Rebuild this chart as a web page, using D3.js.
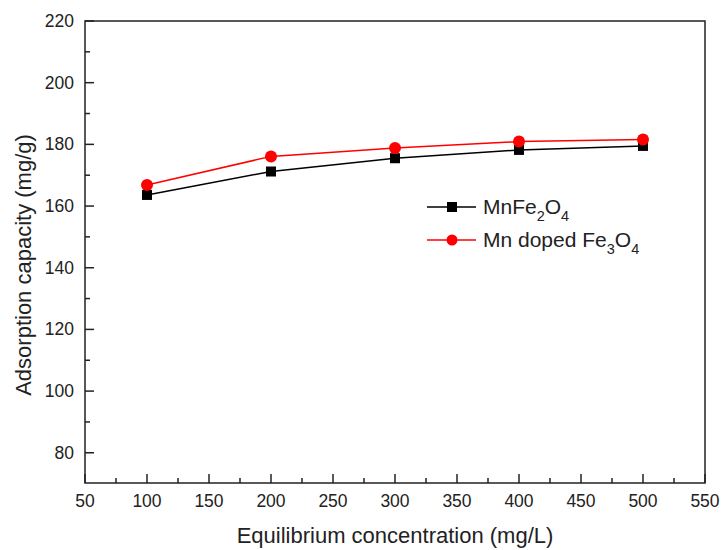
<!DOCTYPE html>
<html>
<head>
<meta charset="utf-8" />
<script src="https://cdn.jsdelivr.net/npm/d3@7"></script>
<style>
  body { margin: 0; background: #fff; }
  text { font-family: "Liberation Sans", Arial, sans-serif; fill: #222; }
</style>
</head>
<body>
<script>
// data
var concentration = [100, 200, 300, 400, 500];
var mnFe2O4 = [163.6, 171.2, 175.5, 178.2, 179.5];
var mnDopedFe3O4 = [166.8, 176.1, 178.8, 180.9, 181.6];
var xTicks = [50, 100, 150, 200, 250, 300, 350, 400, 450, 500, 550];
var yTicks = [80, 100, 120, 140, 160, 180, 200, 220];

var width = 724, height = 550;
var mLeft = 85, mRight = 705, mTop = 21, mBottom = 483;

var svg = d3.select("body").append("svg")
    .attr("width", width)
    .attr("height", height);

var x = d3.scaleLinear().domain([50, 550]).range([mLeft, mRight]);
var y = d3.scaleLinear().domain([70.2, 220]).range([mBottom, mTop]);

// frame
svg.append("rect")
    .attr("x", mLeft).attr("y", mTop)
    .attr("width", mRight - mLeft).attr("height", mBottom - mTop)
    .attr("fill", "none").attr("stroke", "#222").attr("stroke-width", 1.5);

// minor ticks
var xMinor = d3.range(75, 550, 50);
svg.selectAll(".xminor").data(xMinor).enter().append("line")
    .attr("x1", function (d) { return x(d); }).attr("x2", function (d) { return x(d); })
    .attr("y1", mBottom).attr("y2", mBottom - 5)
    .attr("stroke", "#222").attr("stroke-width", 1.5);
var yMinor = d3.range(90, 220, 20);
svg.selectAll(".yminor").data(yMinor).enter().append("line")
    .attr("y1", function (d) { return y(d); }).attr("y2", function (d) { return y(d); })
    .attr("x1", mLeft).attr("x2", mLeft + 5)
    .attr("stroke", "#222").attr("stroke-width", 1.5);

// major ticks + labels
svg.selectAll(".xmajor").data(xTicks).enter().append("line")
    .attr("x1", function (d) { return x(d); }).attr("x2", function (d) { return x(d); })
    .attr("y1", mBottom).attr("y2", mBottom - 9)
    .attr("stroke", "#222").attr("stroke-width", 1.5);
svg.selectAll(".xlabel").data(xTicks).enter().append("text")
    .attr("x", function (d) { return x(d); })
    .attr("y", 507)
    .attr("text-anchor", "middle")
    .attr("font-size", 17.5)
    .text(function (d) { return d; });

svg.selectAll(".ymajor").data(yTicks).enter().append("line")
    .attr("y1", function (d) { return y(d); }).attr("y2", function (d) { return y(d); })
    .attr("x1", mLeft).attr("x2", mLeft + 9)
    .attr("stroke", "#222").attr("stroke-width", 1.5);
svg.selectAll(".ylabel").data(yTicks).enter().append("text")
    .attr("x", mLeft - 11)
    .attr("y", function (d) { return y(d) + 6; })
    .attr("text-anchor", "end")
    .attr("font-size", 17.5)
    .text(function (d) { return d; });

// axis titles
svg.append("text")
    .attr("x", (mLeft + mRight) / 2)
    .attr("y", 543)
    .attr("text-anchor", "middle")
    .attr("font-size", 22)
    .text("Equilibrium concentration (mg/L)");
svg.append("text")
    .attr("transform", "translate(31,265) rotate(-90)")
    .attr("text-anchor", "middle")
    .attr("font-size", 22)
    .text("Adsorption capacity (mg/g)");

var line = d3.line()
    .x(function (d) { return x(d[0]); })
    .y(function (d) { return y(d[1]); });

var blackPts = d3.zip(concentration, mnFe2O4);
var redPts = d3.zip(concentration, mnDopedFe3O4);

svg.append("path").datum(blackPts).attr("d", line)
    .attr("fill", "none").attr("stroke", "#000").attr("stroke-width", 1.5);
svg.append("path").datum(redPts).attr("d", line)
    .attr("fill", "none").attr("stroke", "#f00").attr("stroke-width", 1.5);

svg.selectAll(".sq").data(blackPts).enter().append("rect")
    .attr("x", function (d) { return x(d[0]) - 5; })
    .attr("y", function (d) { return y(d[1]) - 5; })
    .attr("width", 10).attr("height", 10)
    .attr("fill", "#000");
svg.selectAll(".dot").data(redPts).enter().append("circle")
    .attr("cx", function (d) { return x(d[0]); })
    .attr("cy", function (d) { return y(d[1]); })
    .attr("r", 6)
    .attr("fill", "#f00");

// legend
var legend = [
  { color: "#000", shape: "square", parts: [["MnFe", 0], ["2", 1], ["O", 0], ["4", 1]], y: 207 },
  { color: "#f00", shape: "circle", parts: [["Mn doped Fe", 0], ["3", 1], ["O", 0], ["4", 1]], y: 240 }
];
legend.forEach(function (l) {
  svg.append("line")
      .attr("x1", 427).attr("x2", 476)
      .attr("y1", l.y).attr("y2", l.y)
      .attr("stroke", l.color).attr("stroke-width", 1.5);
  if (l.shape === "square") {
    svg.append("rect").attr("x", 447).attr("y", l.y - 5)
        .attr("width", 10).attr("height", 10).attr("fill", l.color);
  } else {
    svg.append("circle").attr("cx", 452).attr("cy", l.y).attr("r", 5.5).attr("fill", l.color);
  }
  var t = svg.append("text").attr("x", 483).attr("y", l.y + 7).attr("font-size", 21);
  var shift = 0;
  l.parts.forEach(function (p) {
    var target = p[1] ? 7 : 0;
    t.append("tspan")
        .attr("font-size", p[1] ? 14.5 : 21)
        .attr("dy", target - shift)
        .text(p[0]);
    shift = target;
  });
});
</script>
</body>
</html>
